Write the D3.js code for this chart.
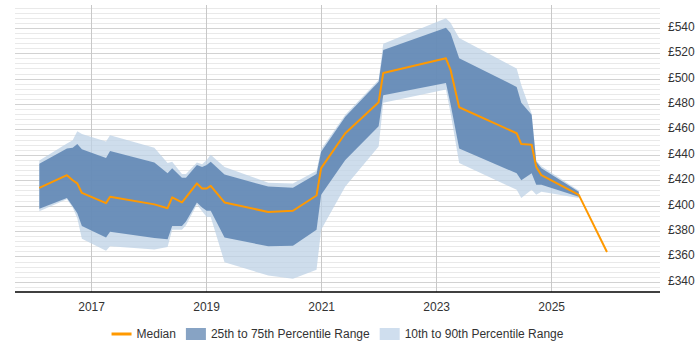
<!DOCTYPE html>
<html>
<head>
<meta charset="utf-8">
<script src="https://cdn.jsdelivr.net/npm/d3@7"></script>
<style>
  body { margin: 0; background: #fff; }
  text { font-family: "Liberation Sans", Arial, sans-serif; font-size: 12px; fill: #333; }
</style>
</head>
<body>
<div id="chart"></div>
<script>
// decimal years of each sample
var years = [2016.10, 2016.58, 2016.68, 2016.76, 2016.84, 2017.26, 2017.33, 2018.10, 2018.33, 2018.41,
    2018.58, 2018.65, 2018.84, 2018.93, 2019.01, 2019.08, 2019.32, 2020.08, 2020.51, 2020.92,
    2021.00, 2021.42, 2022.00, 2022.08, 2023.17, 2023.25, 2023.40, 2024.40, 2024.48, 2024.66,
    2024.74, 2024.83, 2025.48, 2025.97];

var median = [414, 424, 420, 417.5, 410, 402, 407, 401, 398, 406.5,
    402.5, 406.5, 417.5, 413.5, 413.5, 415.5, 402.5, 395, 396, 408,
    429.5, 457, 481.5, 504.5, 516, 507, 477.5, 457, 448.5, 448,
    430.5, 424, 408.5, 363.5];

var p25 = [397.5, 406, 399.5, 394, 384, 375, 379.5, 374.5, 373.5, 384,
    384, 387.5, 402.5, 398.5, 396, 396, 375, 368, 368.5, 381,
    408.5, 436, 462.5, 487, 496.5, 480, 445, 425.5, 420, 425.5,
    416.5, 416.5, 407, null];

var p75 = [433, 445, 445.5, 448.5, 444.5, 437.5, 443, 434, 425.5, 429.5,
    422, 422, 432, 430.5, 432, 434.5, 424.5, 415, 414, 425,
    442.5, 470, 497.5, 522.5, 540, 536, 516, 493.5, 481, 471.5,
    434.5, 429.5, 411, null];

var p10 = [395.5, 405, 398.5, 390, 374, 364.5, 368, 365.5, 367.5, 381,
    381, 384.5, 401, 395.5, 391, 391, 355.5, 345, 342.5, 349.5,
    381, 415, 446.5, 481, 491.5, 473, 433.5, 412.5, 406, 412.5,
    408.5, 411, 406, null];

var p90 = [435.5, 449, 451.5, 458.5, 456.5, 450.5, 455.5, 445.5, 433.5, 434.5,
    425, 425, 434, 432.5, 436, 440, 430.5, 418, 417.5, 427.5,
    444.5, 471.5, 499, 527.5, 547.5, 544, 532, 508, 495, 472.5,
    435.5, 431, 412, null];

var yearTicks = [2017, 2019, 2021, 2023, 2025];
var legendLabels = ["Median", "25th to 75th Percentile Range", "10th to 90th Percentile Range"];

var w = 700,
    h = 350;

var plotLeft = 15, plotRight = 660, plotTop = 5, plotBottom = 292;

var data = years.map(function(yr, i) {
    return { year: yr, med: median[i], q25: p25[i], q75: p75[i], p10: p10[i], p90: p90[i] };
});

var x = d3.scaleLinear().domain([2015.677, 2026.892]).range([plotLeft, plotRight]);
var y = d3.scaleLinear().domain([332, 558]).range([plotBottom, plotTop]);

var svg = d3.select("#chart").append("svg")
    .attr("width", w)
    .attr("height", h);

// horizontal grid, every 4 with darker lines every 20
var gridVals = d3.range(336, 558, 4);
svg.append("g").selectAll("line")
    .data(gridVals)
    .enter().append("line")
    .attr("x1", plotLeft)
    .attr("x2", plotRight)
    .attr("y1", function(d) { return Math.round(y(d)) + 0.5; })
    .attr("y2", function(d) { return Math.round(y(d)) + 0.5; })
    .attr("stroke", function(d) { return d % 20 == 0 ? "#d2d2d2" : "#e9e9e9"; })
    .attr("stroke-width", 1);

// vertical grid at the year ticks
svg.append("g").selectAll("line")
    .data(yearTicks)
    .enter().append("line")
    .attr("x1", function(d) { return Math.round(x(d)) + 0.5; })
    .attr("x2", function(d) { return Math.round(x(d)) + 0.5; })
    .attr("y1", plotTop)
    .attr("y2", plotBottom)
    .attr("stroke", "#c8c8c8");

var bandData = data.filter(function(d) { return d.q25 != null; });

var outer = d3.area()
    .x(function(d) { return x(d.year); })
    .y0(function(d) { return y(d.p10); })
    .y1(function(d) { return y(d.p90); });

var inner = d3.area()
    .x(function(d) { return x(d.year); })
    .y0(function(d) { return y(d.q25); })
    .y1(function(d) { return y(d.q75); });

svg.append("path")
    .datum(bandData)
    .attr("d", outer)
    .attr("fill", "rgb(190,210,230)")
    .attr("fill-opacity", 0.75);

svg.append("path")
    .datum(bandData)
    .attr("d", inner)
    .attr("fill", "rgb(90,131,178)")
    .attr("fill-opacity", 0.85);

var line = d3.line()
    .x(function(d) { return x(d.year); })
    .y(function(d) { return y(d.med); });

svg.append("path")
    .datum(data)
    .attr("d", line)
    .attr("fill", "none")
    .attr("stroke", "#f90")
    .attr("stroke-width", 2)
    .attr("stroke-linejoin", "round");

// x axis
var xAxis = svg.append("g")
    .attr("transform", "translate(0," + plotBottom + ")")
    .call(d3.axisBottom(x).tickValues(yearTicks).tickFormat(d3.format("d")).tickSize(0).tickPadding(10));
xAxis.select(".domain").attr("stroke", "#000").attr("stroke-width", 1.5)
    .attr("d", "M" + plotLeft + ",0H" + plotRight);
xAxis.selectAll("text").style("font-size", "12px").attr("fill", "#333")
    .style("font-family", "'Liberation Sans', Arial, sans-serif");

// y axis labels on the right
var yAxis = svg.append("g")
    .attr("transform", "translate(" + (plotRight + 8) + ",0)")
    .call(d3.axisRight(y).tickValues(d3.range(340, 541, 20)).tickFormat(function(d) { return "£" + d; }).tickSize(0).tickPadding(0));
yAxis.select(".domain").remove();
yAxis.selectAll("text").style("font-size", "12px").attr("fill", "#333")
    .style("font-family", "'Liberation Sans', Arial, sans-serif")
    .attr("dy", "0.2em");

// legend
var legend = svg.append("g").attr("class", "legend");
var items = legend.selectAll("g")
    .data(legendLabels)
    .enter().append("g");

items.each(function(d, i) {
    var g = d3.select(this);
    if (i == 0) {
        g.append("line")
            .attr("x1", 0).attr("x2", 20)
            .attr("y1", 0).attr("y2", 0)
            .attr("stroke", "#f90")
            .attr("stroke-width", 3);
    } else {
        g.append("rect")
            .attr("x", 0).attr("y", -6)
            .attr("width", 20).attr("height", 12)
            .attr("fill", i == 1 ? "#87a3c4" : "#cfdeee");
    }
    g.append("text")
        .attr("x", 25)
        .attr("y", 4)
        .text(d);
});

var pos = 0;
items.attr("transform", function() {
    var tx = pos;
    pos += 25 + this.querySelector("text").getComputedTextLength() + 10;
    return "translate(" + tx + ",0)";
});
var totalW = pos - 10;
legend.attr("transform", "translate(" + ((plotLeft + plotRight) / 2 - totalW / 2) + ",334)");
</script>
</body>
</html>
